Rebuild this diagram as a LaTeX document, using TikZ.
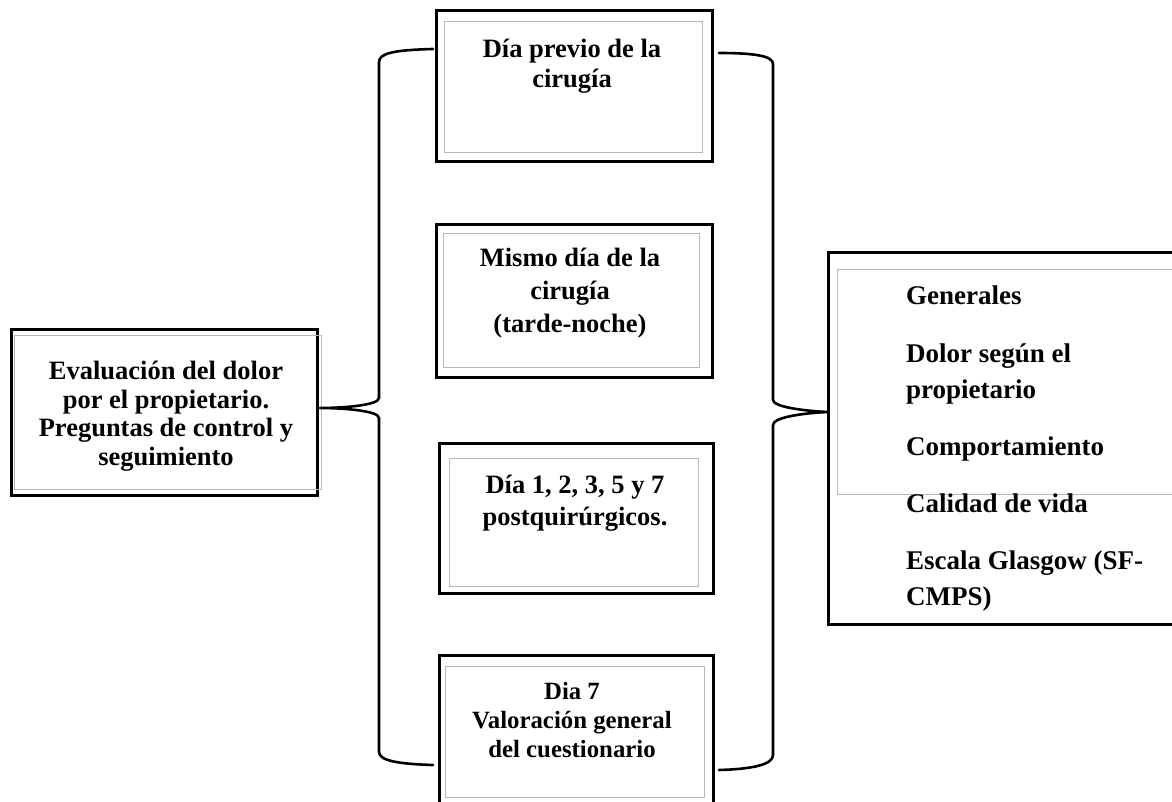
\documentclass[tikz,border=0pt]{standalone}
\usepackage{fontspec}
\setmainfont{Liberation Serif}
\begin{document}
\begin{tikzpicture}[x=1pt,y=-1pt,
  outerbox/.style={draw=black, line width=3pt, inner sep=0pt, rectangle},
  innerbox/.style={draw=black!28, line width=0.9pt},
  lbl/.style={font=\fontsize{26.5}{30}\bfseries\selectfont, align=center, inner sep=0pt, anchor=base},
  item/.style={font=\fontsize{27}{36}\bfseries\selectfont, align=left, inner sep=0pt, anchor=base west},
  bracepath/.style={draw=black, line width=2.6pt, line join=round, line cap=round}]
\useasboundingbox (0,0) rectangle (1172,802);
\clip (0,0) rectangle (1172,802);

% left box
\node[outerbox, minimum width=306pt, minimum height=166pt] (left) at (164,412) {};
\draw[innerbox] (14,335) rectangle (321,489);
\node[lbl, font=\fontsize{26.5}{28.5}\bfseries\selectfont] (lefttxt) at (166,465)
  {Evaluación del dolor\\por el propietario.\\Preguntas de control y\\seguimiento};

% centre boxes
\node[outerbox, minimum width=276pt, minimum height=151pt] (b1) at (574,86.5) {};
\draw[innerbox] (444,21) rectangle (702,152);
\node[lbl] (t1) at (572,88) {Día previo de la\\cirugía};

\node[outerbox, minimum width=276pt, minimum height=152pt] (b2) at (574,301) {};
\draw[innerbox] (443,233) rectangle (699,367);
\node[lbl, font=\fontsize{26.5}{33}\bfseries\selectfont] (t2) at (570,332) {Mismo día de la\\cirugía\\(tarde-noche)};

\node[outerbox, minimum width=274pt, minimum height=150pt] (b3) at (576,518) {};
\draw[innerbox] (449,458) rectangle (698,586);
\node[lbl, font=\fontsize{26.5}{32}\bfseries\selectfont] (t3) at (575,525) {Día 1, 2, 3, 5 y 7\\postquirúrgicos.};

\node[outerbox, minimum width=274pt, minimum height=160pt] (b4) at (576,735) {};
\draw[innerbox] (445,666) rectangle (704,797);
\node[lbl, font=\fontsize{24.8}{29}\bfseries\selectfont] (t4) at (572,757) {Dia 7\\Valoración general\\del cuestionario};

% right box
\node[outerbox, minimum width=362pt, minimum height=371pt] (right) at (1009,438.5) {};
\draw[innerbox] (837,269) rectangle (1200,494);
\node[item] (r1) at (906,305) {Generales};
\node[item] (r2) at (906,398) {Dolor según el\\propietario};
\node[item] (r3) at (906,455) {Comportamiento};
\node[item] (r4) at (906,512) {Calidad de vida};
\node[item] (r5) at (906,605) {Escala Glasgow (SF-\\CMPS)};

% braces
\coordinate (lt) at (433,49);
\coordinate (lb) at (433,765);
\coordinate (ltip) at (320,408);
\coordinate (rt) at (719,53);
\coordinate (rb) at (719,770);
\coordinate (rtip) at (828,412);

\draw[bracepath] (lt) .. controls (395,50) and (379,53) .. (379,62) -- (379,398)
  .. controls (379,405) and (345,408) .. (ltip)
  .. controls (345,408) and (379,411) .. (379,418) -- (379,752)
  .. controls (379,761) and (400,764) .. (lb);
\draw[bracepath] (rt) .. controls (755,53) and (773,56) .. (773,64) -- (773,400)
  .. controls (773,407) and (805,411) .. (rtip)
  .. controls (805,413) and (773,417) .. (773,425) -- (773,755)
  .. controls (773,764) and (755,769) .. (rb);
\end{tikzpicture}
\end{document}
